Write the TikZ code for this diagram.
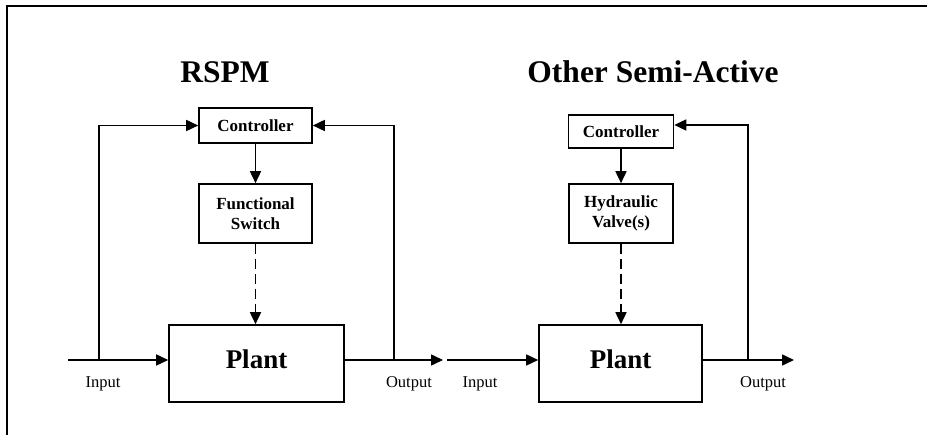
\documentclass[tikz,border=0pt]{standalone}
\usepackage{fontspec}
\setmainfont{Liberation Serif}
\usetikzlibrary{arrows.meta}

\begin{document}
\begin{tikzpicture}[x=1pt, y=-1pt, line width=1.6pt,
		block/.style={draw, font=\bfseries\fontsize{17}{19.5}\selectfont, align=center, inner sep=0pt},
		plantbox/.style={draw, font=\bfseries\fontsize{27}{30}\selectfont, minimum height=77pt, text depth=9pt, inner sep=0pt},
		title/.style={font=\bfseries\fontsize{31.5}{36}\selectfont, anchor=base},
		sig/.style={font=\fontsize{16.5}{19}\selectfont, anchor=base},
		flow/.style={-{Triangle[length=12pt,width=11pt]}},
		act/.style={flow, dash pattern=on 10pt off 5pt}]
		\useasboundingbox ( 0, 0 ) rectangle ( 927, 435 );

		% рамка
		\draw [line width=1.4pt] ( 7, 435 ) -- ( 7, 6 ) -- ( 927, 6 );

		% RSPM
		\node [title] (title1) at ( 225, 83 ) {RSPM};
		\node [block, minimum width=113pt, minimum height=35pt] (ctrl1) at ( 255.5, 125.5 ) {Controller};
		\node [block, minimum width=113pt, minimum height=59pt] (fsw) at ( 255.5, 213.5 ) {Functional\\Switch};
		\node [plantbox, minimum width=175pt] (plant1) at ( 256.5, 363.5 ) {Plant};
		\coordinate (in1) at ( 68, 360 );
		\coordinate (tap1) at ( 99, 360 );
		\coordinate (tap2) at ( 394, 360 );
		\coordinate (out1) at ( 443, 360 );
		\draw [flow] (in1) -- (in1 -| plant1.west);
		\draw [flow] (tap1) |- (ctrl1.west);
		\draw [flow] (plant1.east |- out1) -- (out1);
		\draw [flow] (tap2) |- (ctrl1.east);
		\draw [flow] (ctrl1) -- (fsw);
		\draw [act] (fsw.south) -- (fsw.south |- plant1.north);
		\node [sig] (lin1) at ( 103, 388 ) {Input};
		\node [sig] (lout1) at ( 409, 388 ) {Output};

		% Other Semi-Active
		\node [title] (title2) at ( 653, 83 ) {Other Semi-Active};
		\node [block, minimum width=105pt, minimum height=33pt] (ctrl2) at ( 621, 131.5 ) {Controller};
		\node [block, minimum width=104pt, minimum height=59pt] (hyd) at ( 621, 213.5 ) {Hydraulic\\Valve(s)};
		\node [plantbox, minimum width=163pt] (plant2) at ( 620.5, 363.5 ) {Plant};
		\coordinate (in2) at ( 447, 360 );
		\coordinate (tap3) at ( 748, 360 );
		\coordinate (out2) at ( 794, 360 );
		\draw [flow] (in2) -- (in2 -| plant2.west);
		\draw [flow] (plant2.east |- out2) -- (out2);
		\draw [flow] (tap3) |- ([yshift=6.5pt]ctrl2.east);
		\draw [flow] (ctrl2) -- (hyd);
		\draw [act] (hyd.south) -- (hyd.south |- plant2.north);
		\node [sig] (lin2) at ( 480, 388 ) {Input};
		\node [sig] (lout2) at ( 763, 388 ) {Output};
	\end{tikzpicture}
\end{document}
